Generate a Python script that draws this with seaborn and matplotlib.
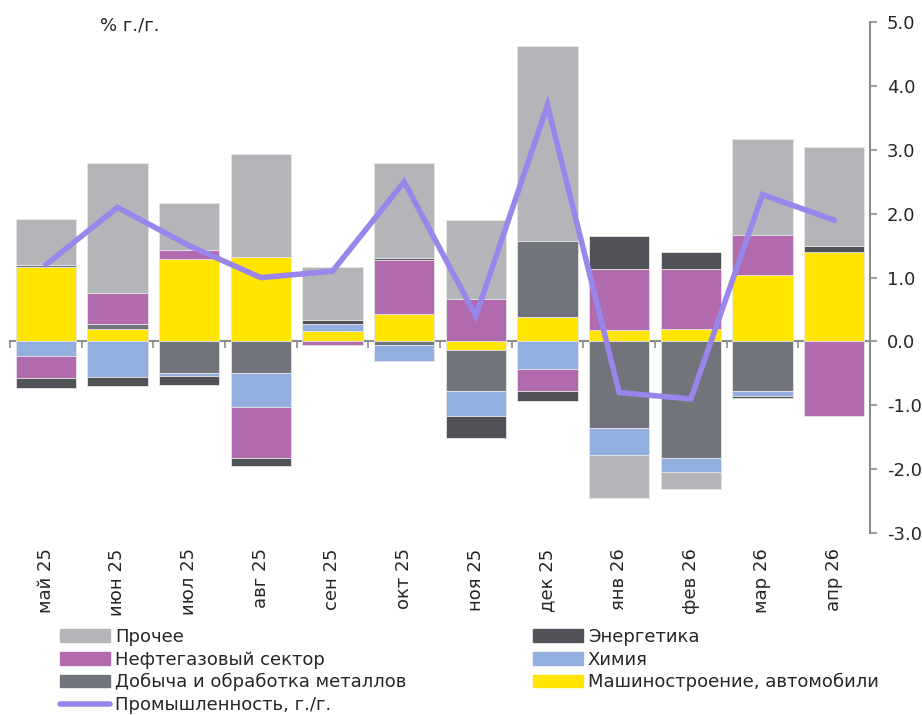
import matplotlib
matplotlib.use("Agg")
import matplotlib.pyplot as plt
import seaborn as sns
import numpy as np
import pandas as pd
from matplotlib.lines import Line2D
from matplotlib.patches import Patch

months = ["май 25", "июн 25", "июл 25", "авг 25", "сен 25", "окт 25",
          "ноя 25", "дек 25", "янв 26", "фев 26", "мар 26", "апр 26"]

machinery = [1.17, 0.20, 1.29, 1.32, 0.17, 0.43, -0.13, 0.39, 0.18, 0.20, 1.04, 1.40]
metals = [0.03, 0.07, -0.50, -0.50, 0.00, -0.06, -0.64, 1.19, -1.36, -1.82, -0.77, 0.00]
chemistry = [-0.22, -0.55, -0.04, -0.53, 0.10, -0.24, -0.40, -0.43, -0.42, -0.23, -0.09, 0.00]
oil_gas = [-0.36, 0.49, 0.15, -0.80, -0.06, 0.84, 0.67, -0.35, 0.95, 0.93, 0.63, -1.16]
energy = [-0.15, -0.15, -0.14, -0.12, 0.06, 0.03, -0.34, -0.16, 0.52, 0.27, -0.02, 0.10]
other = [0.72, 2.04, 0.73, 1.62, 0.83, 1.50, 1.23, 3.05, -0.67, -0.26, 1.50, 1.55]
industry = [1.2, 2.1, 1.5, 1.0, 1.1, 2.5, 0.4, 3.7, -0.8, -0.9, 2.3, 1.9]

series = [
    ("Машиностроение, автомобили", machinery, "#ffe500"),
    ("Добыча и обработка металлов", metals, "#72747c"),
    ("Химия", chemistry, "#93afe0"),
    ("Нефтегазовый сектор", oil_gas, "#b06aad"),
    ("Энергетика", energy, "#515257"),
    ("Прочее", other, "#b4b5b8"),
]
line_color = "#9a86ea"

sns.set_style("white")
plt.rcParams["font.family"] = ["DejaVu Sans"]

fig = plt.figure(figsize=(9.22, 7.15), dpi=100)
ax = fig.add_axes([0.0108, 0.2545, 0.9328, 0.7145])

pos_base = np.zeros(len(months))
neg_base = np.zeros(len(months))
for name, vals, color in series:
    v = np.array(vals)
    bottom = np.where(v >= 0, pos_base, neg_base)
    df = pd.DataFrame({"month": months, "value": v})
    sns.barplot(data=df, x="month", y="value", bottom=bottom, color=color,
                width=0.84, edgecolor="#e4e4e4", linewidth=0.6,
                saturation=1, ax=ax)
    pos_base = pos_base + np.where(v > 0, v, 0)
    neg_base = neg_base + np.where(v < 0, v, 0)

line_df = pd.DataFrame({"month": months, "value": industry})
sns.lineplot(data=line_df, x="month", y="value", color=line_color,
             linewidth=4, solid_capstyle="round", solid_joinstyle="miter",
             sort=False, ax=ax, zorder=5)

ax.set_xlim(-0.5, len(months) - 0.5)
ax.set_ylim(-3, 5)
ax.set_xlabel("")
ax.set_ylabel("")

# y axis on the right
ax.yaxis.tick_right()
ax.set_yticks(np.arange(-3, 5.1, 1))
ax.set_yticklabels([f"{t:.1f}" for t in np.arange(-3, 5.1, 1)])
for s in ["left", "top", "bottom"]:
    ax.spines[s].set_visible(False)
ax.spines["right"].set_color("#8c8c8c")
ax.spines["right"].set_linewidth(1.5)
ax.tick_params(axis="y", direction="out", length=5, width=1.2,
               color="#8c8c8c", labelsize=13, pad=7, right=True, left=False)

# month labels at the bottom
ax.tick_params(axis="x", length=0, labelsize=13, pad=11, labelrotation=90)

# zero line with boundary ticks
zero_ax = ax.secondary_xaxis(3 / 8)
zero_ax.set_xticks(np.arange(-0.5, len(months), 1))
zero_ax.set_xticklabels([])
zero_ax.spines["bottom"].set_color("#8c8c8c")
zero_ax.spines["bottom"].set_linewidth(1.5)
zero_ax.tick_params(axis="x", direction="out", length=5, width=1.2,
                    color="#8c8c8c")

ax.text(0.105, 1.012, "% г./г.", transform=ax.transAxes, fontsize=13,
        va="top", ha="left", color="#222222")

handles = [
    Patch(color="#b4b5b8", label="Прочее"),
    Patch(color="#b06aad", label="Нефтегазовый сектор"),
    Patch(color="#72747c", label="Добыча и обработка металлов"),
    Line2D([], [], color=line_color, linewidth=4, solid_capstyle="round",
           label="Промышленность, г./г."),
    Patch(color="#515257", label="Энергетика"),
    Patch(color="#93afe0", label="Химия"),
    Patch(color="#ffe500", label="Машиностроение, автомобили"),
]
fig.legend(handles=handles, ncol=2, loc="upper left",
           bbox_to_anchor=(0.057, 0.132), frameon=False, fontsize=13,
           handlelength=2.8, handleheight=0.7, handletextpad=0.25,
           labelspacing=0.26, columnspacing=7.0, borderaxespad=0)

fig.savefig("out.png", dpi=100)
